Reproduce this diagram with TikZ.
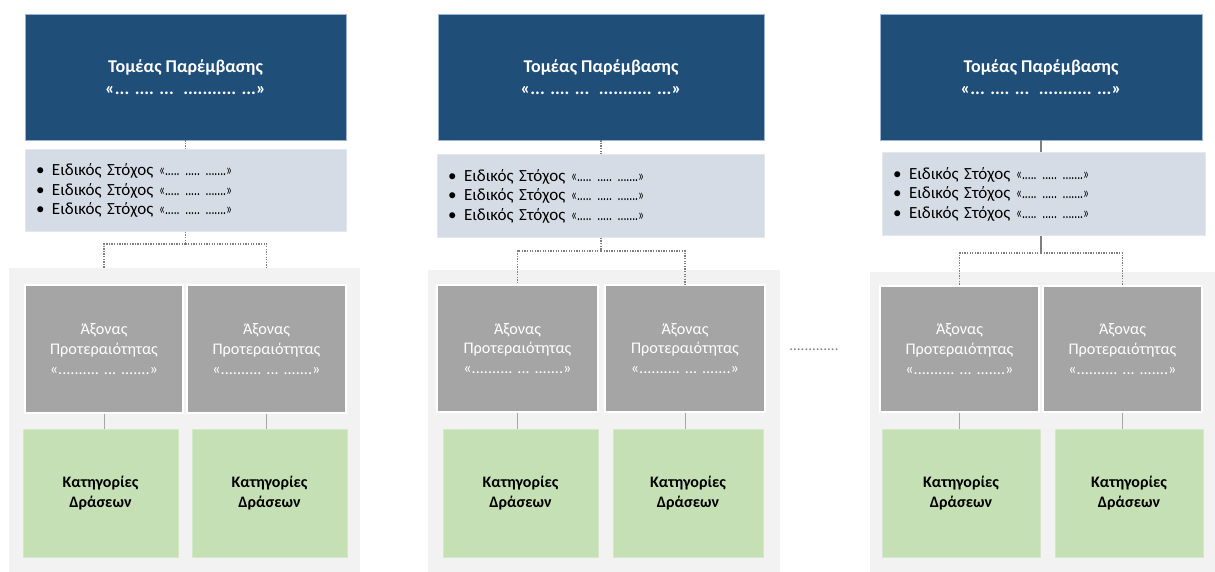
\documentclass[tikz,border=0pt]{standalone}
\usepackage{graphicx}
\usepackage{fontspec}
\setmainfont{Carlito}
\definecolor{topblue}{HTML}{1F4E79}
\definecolor{topborder}{HTML}{9DB3CF}
\definecolor{esfill}{HTML}{D6DCE5}
\definecolor{esborder}{HTML}{E4E8EE}
\definecolor{axgray}{HTML}{A5A5A5}
\definecolor{grfill}{HTML}{C5E0B4}
\definecolor{grborder}{HTML}{D5E8C8}
\definecolor{panelgray}{HTML}{F2F2F2}
\definecolor{dotgray}{HTML}{7F7F7F}
\definecolor{linegray}{HTML}{A6A6A6}
\newcommand{\esitem}{\makebox[16pt][l]{•}Ειδικός Στόχος \resizebox{73pt}{\height}{«..... ..... .......»}}
\newcommand{\toptext}{Τομέας Παρέμβασης\\«... .... ... \ ........... ...»}
\newcommand{\axtext}{Άξονας\\Προτεραιότητας\\«.......... ... .......»}
\newcommand{\grtext}{Κατηγορίες\\Δράσεων}
\begin{document}
\begin{tikzpicture}[x=1pt,y=-1pt,
  topbox/.style={fill=topblue, draw=topborder, line width=0.6pt, text=white,
    font=\fontsize{18}{22}\selectfont\bfseries, align=center, inner sep=0pt},
  esbox/.style={fill=esfill, draw=esborder, line width=0.6pt, text=black,
    font=\fontsize{17}{19.5}\selectfont, align=left, inner xsep=11pt, inner ysep=0pt},
  axbox/.style={fill=axgray, draw=white, line width=1.2pt, text=white,
    font=\fontsize{16.2}{19.7}\selectfont, align=center, inner sep=0pt},
  grbox/.style={fill=grfill, draw=grborder, line width=0.6pt, text=black,
    font=\fontsize{16}{19.3}\selectfont\bfseries, align=center, inner sep=0pt},
  panelbox/.style={fill=panelgray, draw=none, inner sep=0pt},
  dotline/.style={draw=dotgray, line width=1.3pt, dash pattern=on 1.3pt off 1.3pt},
  solidline/.style={draw=linegray, line width=1pt},
  darkline/.style={draw=dotgray, line width=1.5pt},
]
\useasboundingbox[fill=white] (0,0) rectangle (1215,572);

% panels
\node[panelbox, minimum width=351pt, minimum height=304pt] (p1) at (184.5,420) {};
\node[panelbox, minimum width=352pt, minimum height=302pt] (p2) at (604,421) {};
\node[panelbox, minimum width=345pt, minimum height=300pt] (p3) at (1042.5,422) {};

% ---------- column 1 ----------
\node[topbox, minimum width=321pt, minimum height=126pt] (t1) at (185.5,77) {\toptext};
\node[esbox, text width=299pt, minimum height=82pt] (e1) at (185.5,190.5) {\esitem\\\esitem\\\esitem};
\coordinate (j1) at (185.5,244);
\coordinate (c11) at (104,268);
\coordinate (c12) at (266.5,268);
\draw[dotline] (t1.south) -- (e1.north);
\draw[dotline] (e1.south) -- (j1);
\draw[dotline] (j1) -| (c11);
\draw[dotline] (j1) -| (c12);
\node[axbox, minimum width=158pt, minimum height=128pt] (a11) at (104,349) {\axtext};
\node[axbox, minimum width=159pt, minimum height=128pt] (a12) at (266.5,349) {\axtext};
\node[grbox, minimum width=155pt, minimum height=128pt] (g11) at (100.5,493) {\grtext};
\node[grbox, minimum width=155pt, minimum height=128pt] (g12) at (269.5,493) {\grtext};
\draw[solidline] (a11.south) -- (a11.south |- g11.north);
\draw[solidline] (a12.south) -- (a12.south |- g12.north);

% ---------- column 2 ----------
\node[topbox, minimum width=326pt, minimum height=126pt] (t2) at (601,77) {\toptext};
\node[esbox, text width=305pt, minimum height=83pt] (e2) at (600.5,196) {\esitem\\\esitem\\\esitem};
\node[axbox, minimum width=161pt, minimum height=127pt] (a21) at (517.5,348.5) {\axtext};
\node[axbox, minimum width=160pt, minimum height=127pt] (a22) at (685,348.5) {\axtext};
\node[grbox, minimum width=155pt, minimum height=128pt] (g21) at (520.5,493) {\grtext};
\node[grbox, minimum width=150pt, minimum height=128pt] (g22) at (688,493) {\grtext};
\coordinate (j2) at (601,251);
\draw[dotline] (t2.south) -- (t2.south |- e2.north);
\draw[dotline] (e2.south -| j2) -- (j2);
\draw[dotline] (j2) -| (a21.north);
\draw[dotline] (j2) -| (a22.north);
\draw[solidline] (a21.south) -- (a21.south |- g21.north);
\draw[solidline] (a22.south) -- (a22.south |- g22.north);

% ---------- middle dots ----------
\node[font=\fontsize{15}{18}\selectfont, text=dotgray, inner sep=0pt] (mid) at (814,350) {.............};

% ---------- column 3 ----------
\node[topbox, minimum width=322pt, minimum height=126pt] (t3) at (1041,77) {\toptext};
\node[esbox, text width=301pt, minimum height=83pt] (e3) at (1043.5,194) {\esitem\\\esitem\\\esitem};
\node[axbox, minimum width=159pt, minimum height=126pt] (a31) at (959.5,349) {\axtext};
\node[axbox, minimum width=159pt, minimum height=126pt] (a32) at (1122.5,349) {\axtext};
\node[grbox, minimum width=158pt, minimum height=128pt] (g31) at (961,493) {\grtext};
\node[grbox, minimum width=148pt, minimum height=128pt] (g32) at (1129,493) {\grtext};
\coordinate (j3) at (1041,253);
\draw[darkline] (t3.south) -- (t3.south |- e3.north);
\draw[darkline] (e3.south -| j3) -- (j3);
\draw[dotline] (j3) -| (a31.north);
\draw[dotline] (j3) -| (a32.north);
\draw[solidline] (a31.south) -- (a31.south |- g31.north);
\draw[solidline] (a32.south) -- (a32.south |- g32.north);
\end{tikzpicture}
\end{document}
